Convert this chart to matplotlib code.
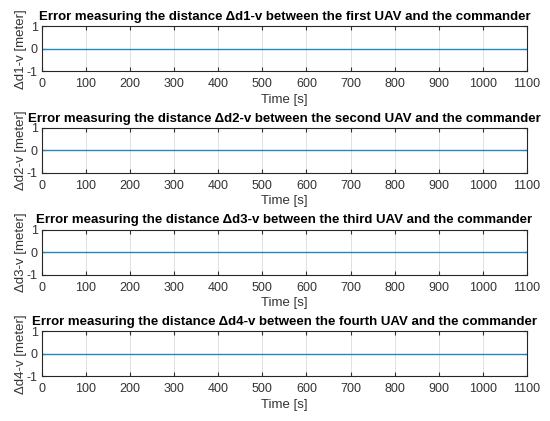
import numpy as np
import matplotlib.pyplot as plt

# error data (all zero over the run)
time_s = [0, 1100]
errors = {
    'first': [0, 0],
    'second': [0, 0],
    'third': [0, 0],
    'fourth': [0, 0],
}
ylabels = ['Δd1-v [meter]', 'Δd2-v [meter]', 'Δd3-v [meter]', 'Δd4-v [meter]']
x_ticks = list(range(0, 1101, 100))
y_ticks = [-1, 0, 1]

plt.rcParams['font.family'] = ['Liberation Sans', 'DejaVu Sans']
plt.rcParams['axes.unicode_minus'] = False

fig = plt.figure(figsize=(5.5, 4.21), dpi=100)
gray = '#333333'

for i, (name, vals) in enumerate(errors.items()):
    bottom = 0.831 - i * 0.2416
    ax = fig.add_axes([0.076, bottom, 0.882, 0.107])
    ax.plot(time_s, vals, color='#2585bf', linewidth=1.0)
    ax.set_xlim(0, 1100)
    ax.set_ylim(-1, 1)
    ax.set_xticks(x_ticks)
    ax.set_yticks(y_ticks)
    ax.grid(True, color='#dcdcdc', linewidth=0.6)
    ax.set_axisbelow(True)
    ax.tick_params(direction='in', top=True, right=True, length=3,
                   labelsize=9, colors=gray)
    ax.tick_params(axis='x', pad=5)
    ax.tick_params(axis='y', pad=3)
    for s in ax.spines.values():
        s.set_color('#262626')
        s.set_linewidth(0.8)
    ax.set_title('Error measuring the distance Δd%d-v between the %s UAV and the commander'
                 % (i + 1, name), fontsize=9.5, fontweight='bold', pad=4.5)
    ax.set_xlabel('Time [s]', fontsize=9.5, color=gray, labelpad=2.5)
    ax.set_ylabel(ylabels[i], fontsize=9.5, color=gray, labelpad=0)

fig.savefig('out.png', dpi=100)
